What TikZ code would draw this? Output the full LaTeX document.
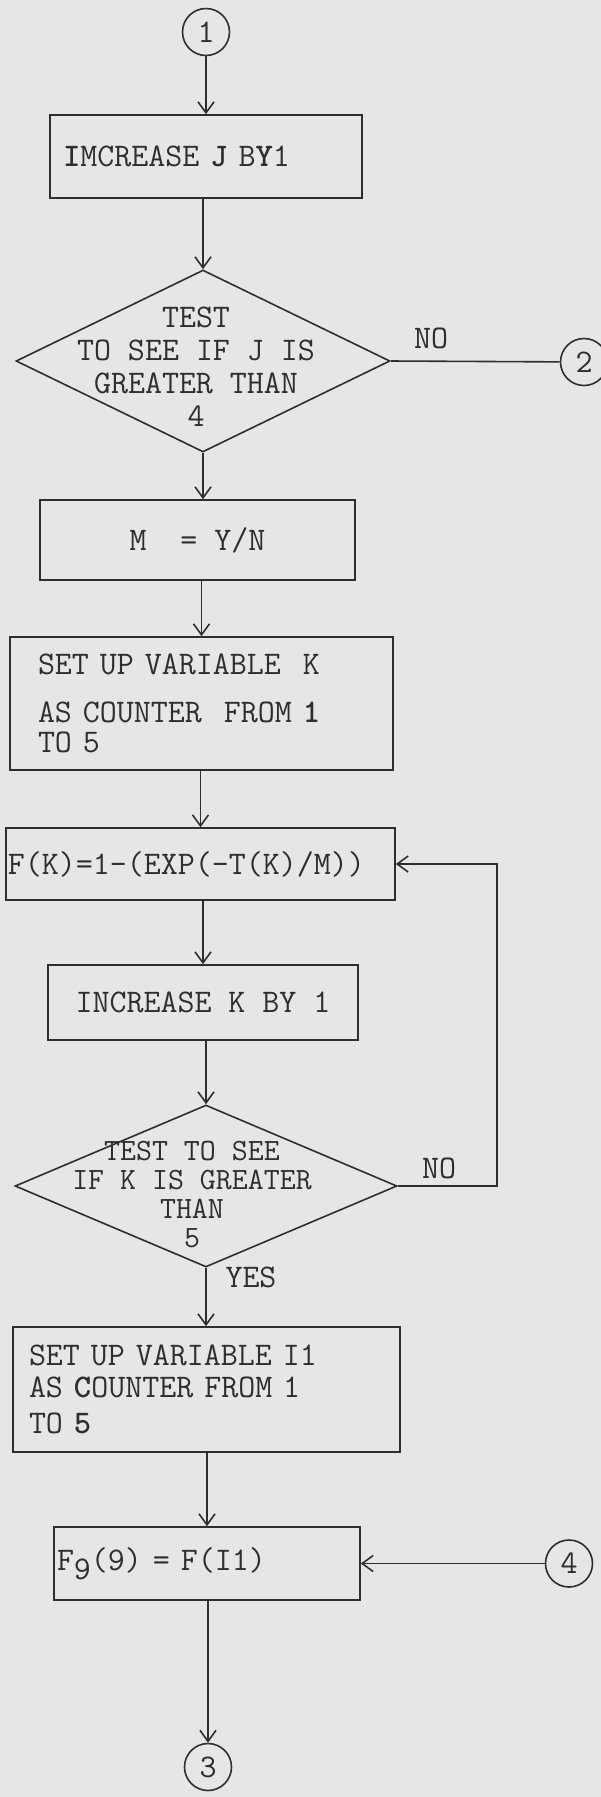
\documentclass[tikz,border=0pt]{standalone}
\usepackage{fontspec}
\usepackage{tikz}
\definecolor{chartPaper}{HTML}{E6E6E4}
\definecolor{chartInk}{HTML}{2E2E2E}
\usetikzlibrary{arrows.meta,shapes.geometric}

\begin{document}
\begin{tikzpicture}[x=1pt,y=-1pt,
  every node/.style={font=\ttfamily\fontsize{33}{32}\selectfont, text=chartInk},
  stepbox/.style={draw=chartInk, line width=1.6pt, rectangle, inner ysep=0pt},
  decision/.style={draw=chartInk, line width=1.6pt, diamond, inner sep=0pt},
  decisiontext/.style={align=center, inner sep=0pt},
  connector/.style={draw=chartInk, line width=1.6pt, circle, minimum size=47pt, inner sep=0pt},
  link/.style={draw=chartInk, line width=1.6pt},
  arr/.style={link, -{Straight Barb[length=11pt,width=16pt]}}]
  \fill[chartPaper] (0,0) rectangle (601,1797);
  \useasboundingbox (0,0) rectangle (601,1797);

  % connectors in circles
  \foreach \num/\x/\y in {1/206/32, 2/584/362, 3/208/1767, 4/569/1563.5} {
    \node[connector] (c\num) at (\x,\y) {\num};
  }

  % J loop
  \node[stepbox, minimum width=312pt, minimum height=83pt, inner xsep=13pt, text width=286pt, align=left] (incj) at (206,156.5) {\textbf{I}MCREASE \textbf{J} B\textbf{Y}1};
  \node[decision, minimum width=374pt, minimum height=182pt] (test1) at (203,361) {};
  \node[decisiontext, font=\ttfamily\fontsize{33}{33}\selectfont] (test1txt) at (196,367) {TEST\\TO SEE IF J IS\\GREATER THAN\\4};
  \node (notest1) at (431,338) {NO};
  \node[stepbox, minimum width=315pt, minimum height=80pt] (mval) at (197.5,540) {M~~= Y/N};

  % K loop
  \node[stepbox, minimum width=383pt, minimum height=133pt, inner xsep=28pt, text width=327pt, align=left] (setk) at (201.5,703.5) {SET UP VARIABLE~~K\\[16pt]AS COUNTER~~FROM \textbf{1}\\[-2pt]TO 5};
  \node[stepbox, minimum width=389pt, minimum height=72pt, inner xsep=2pt, text width=385pt, align=left] (fk) at (200.5,864) {F(K)=1-(EXP(-T(K)/M))};
  \node[stepbox, minimum width=310pt, minimum height=75pt] (inck) at (203,1002.5) {INCREASE K BY 1};
  \node[decision, minimum width=382pt, minimum height=162pt] (test2) at (206,1186) {};
  \node[decisiontext, font=\ttfamily\fontsize{31}{29}\selectfont] (test2txt) at (192,1195) {TEST TO SEE\\IF K IS GREATER\\THAN\\5};
  \node (notest2) at (439,1168) {NO};
  \node (yestest2) at (251,1277) {YES};

  % I1 loop
  \node[stepbox, minimum width=387pt, minimum height=125pt, inner xsep=16pt, text width=355pt, align=left] (seti) at (206.5,1389.5) {SET UP VARIABLE I1\\AS \textbf{C}OUNTER FROM 1\\[4pt]TO \textbf{5}\\[-20pt]};
  \node[stepbox, minimum width=306pt, minimum height=73pt, inner xsep=3pt, text width=300pt, align=left] (fnine) at (207,1563.5) {F\raisebox{-9pt}{9}(9) = F(I1)};

  \coordinate (loopturn) at (497,864);

  \draw[arr] (c1) -- (c1 |- incj.north);
  \draw[arr] (incj.south -| test1.north) -- (test1.north);
  \draw[link] (test1.east) -- (c2);
  \draw[arr] (test1.south) -- (test1.south |- mval.north);
  \draw[arr] (mval.south -| setk.north) -- (setk.north);
  \draw[arr] (setk.south -| fk.north) -- (fk.north);
  \draw[arr] (fk.south -| inck.north) -- (inck.north);
  \draw[arr] (inck.south -| test2.north) -- (test2.north);
  \draw[arr] (test2.east) -| (loopturn) -- (fk.east);
  \draw[arr] (test2.south) -- (test2.south |- seti.north);
  \draw[arr] (seti.south -| fnine.north) -- (fnine.north);
  \draw[arr] (c4) -- (fnine.east);
  \draw[arr] (fnine.south -| c3.north) -- (c3.north);
\end{tikzpicture}
\end{document}
